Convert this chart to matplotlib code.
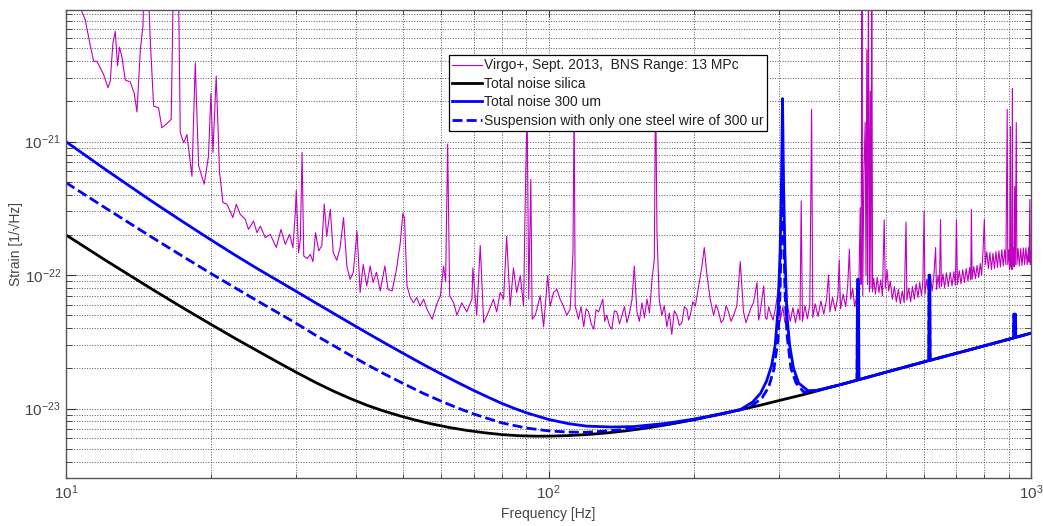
import matplotlib
matplotlib.use('Agg')
import matplotlib.pyplot as plt
from matplotlib.ticker import NullFormatter, FixedLocator

plt.rcParams['font.family'] = ['Liberation Sans', 'DejaVu Sans']
plt.rcParams['mathtext.fontset'] = 'custom'
plt.rcParams['mathtext.rm'] = 'Liberation Sans'
plt.rcParams['axes.unicode_minus'] = False

# ---------------- data ----------------
# Virgo+ measured sensitivity, (frequency [Hz], strain [1/sqrt(Hz)])
virgo_low = [
    (10.0, 3e-20), (10.5, 1.2e-20), (10.96, 8.2e-21), (11.2, 5.5e-21), (11.41, 4.0e-21),
    (11.59, 4.0e-21), (11.96, 3.2e-21), (12.22, 2.54e-21), (12.35, 2.84e-21), (12.51, 5.5e-21),
    (12.65, 6.7e-21), (12.79, 3.7e-21), (12.91, 5.1e-21), (13.06, 4.3e-21), (13.27, 2.9e-21),
    (13.59, 2.8e-21), (13.85, 2.3e-21), (14.03, 1.67e-21), (14.26, 4.9e-21), (14.44, 7.4e-21),
    (14.53, 2e-20), (14.76, 2e-20), (14.95, 5.8e-21), (15.19, 1.85e-21), (15.55, 1.8e-21),
    (15.80, 1.27e-21), (16.19, 1.37e-21), (16.52, 1.47e-21), (16.71, 2e-20), (17.09, 2e-20),
    (17.25, 1.17e-21), (17.53, 9.8e-22), (17.81, 1.13e-21), (18.24, 5.5e-22), (18.53, 3.9e-21),
    (18.83, 6.6e-22), (19.34, 4.8e-22), (19.74, 7.8e-22), (19.97, 2.3e-21), (20.16, 8.3e-22),
    (20.48, 3.1e-21), (20.81, 5.9e-22), (21.15, 3.5e-22), (21.56, 3.4e-22), (22.18, 2.7e-22),
    (22.54, 3.4e-22), (22.97, 2.85e-22), (23.52, 2.62e-22), (23.89, 2.2e-22), (24.47, 2.54e-22),
    (24.88, 2.08e-22), (25.27, 2.33e-22), (25.88, 1.91e-22), (26.50, 2.02e-22), (27.28, 1.61e-22),
    (27.90, 2.2e-22), (28.47, 1.7e-22), (29.06, 2.02e-22), (29.54, 1.61e-22), (29.87, 2.95e-22),
    (30.01, 4.3e-22), (30.34, 1.47e-22),
]
virgo_mid = [
    (30.6, 1.85e-22), (30.85, 8.3e-22), (31.1, 1.39e-22), (31.6, 1.33e-22), (32.1, 1.43e-22),
    (32.5, 1.26e-22), (32.9, 2.08e-22), (33.4, 1.52e-22), (33.9, 1.66e-22), (34.3, 3.41e-22),
    (34.7, 1.95e-22), (35.3, 3.11e-22), (35.8, 1.48e-22), (36.4, 1.29e-22), (37.0, 1.61e-22),
    (37.6, 2.70e-22), (38.2, 1.17e-22), (38.8, 9.3e-23), (39.4, 1.05e-22), (40.1, 2.14e-22),
    (40.7, 7.4e-23), (41.3, 1.20e-22), (42.0, 8.3e-23), (42.7, 1.17e-22), (43.3, 8.8e-23),
    (44.0, 1.05e-22), (44.8, 7.6e-23), (45.8, 1.17e-22), (46.5, 7.8e-23), (47.4, 7.6e-23),
    (48.4, 1.10e-22), (49.3, 1.75e-22), (49.9, 2.9e-22), (50.3, 2.7e-22), (50.9, 8.3e-23),
    (51.7, 6.8e-23), (52.5, 6.2e-23), (53.3, 6.8e-23), (54.2, 5.85e-23), (55.1, 6.6e-23),
    (56.0, 5.55e-23), (57.4, 4.67e-23), (58.8, 6.2e-23), (59.7, 7.0e-23), (60.6, 1.17e-22),
    (61.2, 8.9e-23), (61.8, 9.6e-22), (62.4, 7.0e-23), (63.6, 6.2e-23), (64.6, 5.0e-23),
    (66.1, 6.2e-23), (67.7, 5.3e-23), (69.4, 6.6e-23), (69.7, 1.13e-22), (71.0, 5.0e-23),
    (72.2, 1.67e-22), (73.4, 4.4e-23), (75.1, 5.3e-23), (76.9, 6.6e-23), (78.1, 5.3e-23),
    (79.4, 7.4e-23), (80.7, 6.6e-23), (81.9, 1.95e-22), (83.3, 5.85e-23), (84.6, 1.13e-22),
    (85.9, 7.4e-23), (87.4, 9.9e-23), (88.8, 5.85e-23), (89.5, 3.7e-22), (90.3, 1.8e-21),
    (91.0, 6.6e-23), (91.9, 5.2e-22), (92.5, 4.67e-23), (93.9, 5.0e-23), (96.1, 7.0e-23),
    (97.7, 4.1e-23), (99.6, 9.9e-23), (100.8, 5.85e-23), (102.4, 7.4e-23), (104.1, 7.8e-23),
    (105.7, 6.6e-23), (107.4, 5.85e-23), (109.1, 5.0e-23), (110.9, 5.55e-23), (112.4, 1.48e-22),
    (113.0, 2.0e-21), (113.6, 5.85e-23), (115.4, 4.67e-23), (116.8, 5.8e-23), (118.3, 4.1e-23),
    (119.7, 5.6e-23), (121.1, 5.3e-23), (122.6, 4.3e-23), (124.1, 3.93e-23), (125.5, 5.5e-23),
    (127.0, 5.3e-23), (129.6, 6.6e-23), (130.8, 4.5e-23), (132.1, 5.0e-23), (133.7, 4.2e-23),
    (135.3, 3.93e-23), (136.9, 5.4e-23), (138.6, 5.3e-23), (140.3, 4.3e-23), (142.0, 5.0e-23),
    (143.7, 5.8e-23), (145.4, 4.4e-23), (147.2, 5.2e-23), (149.0, 6.6e-23), (150.6, 1.17e-22),
    (152.5, 5.3e-23), (154.3, 4.5e-23), (156.2, 6.2e-23), (158.1, 4.8e-23), (160.0, 6.6e-23),
    (161.9, 5.2e-23), (163.9, 9.3e-23), (165.7, 1.31e-22), (166.7, 3.0e-21), (167.8, 2.08e-22),
    (169.6, 6.6e-23), (171.8, 5.0e-23), (173.8, 5.9e-23), (175.9, 4.1e-23), (178.0, 5.2e-23),
    (180.1, 3.6e-23), (182.3, 5.4e-23), (184.5, 5.0e-23), (186.7, 4.2e-23), (189.0, 4.4e-23),
    (191.3, 5.8e-23), (193.6, 5.55e-23), (195.1, 4.6e-23), (196.7, 5.0e-23), (199.1, 6.3e-23),
    (201.5, 5.85e-23), (204.7, 8.3e-23), (208.0, 1.17e-22), (210.3, 1.61e-22), (213.1, 9.9e-23),
    (216.3, 6.6e-23), (219.9, 5.0e-23), (222.5, 6.0e-23), (225.2, 5.3e-23), (227.9, 4.4e-23),
    (230.7, 4.67e-23), (233.4, 5.9e-23), (236.1, 5.3e-23), (239.0, 4.5e-23), (241.9, 5.0e-23),
    (245.6, 5.85e-23), (249.7, 1.26e-22), (253.6, 5.3e-23), (256.6, 4.4e-23), (259.7, 5.0e-23),
    (262.8, 5.7e-23), (265.9, 6.2e-23), (270.5, 8.8e-23), (272.6, 4.6e-23), (274.7, 5.3e-23),
    (279.3, 8.3e-23), (281.5, 4.8e-23), (283.6, 4.67e-23), (286.0, 5.8e-23),
]
virgo_high = [
    (288, 5.3e-23), (292, 4.6e-23), (296, 5.9e-23), (299.8, 8.3e-23), (302, 4.5e-23),
    (306, 5.8e-23), (309, 4.4e-23), (313, 5.9e-23), (317, 4.5e-23), (321, 5.7e-23),
    (325, 4.4e-23), (329, 5.6e-23), (332, 4.6e-23), (334, 3.6e-22), (336, 4.5e-23),
    (340, 5.9e-23), (344, 4.7e-23), (348, 6.0e-23), (351, 1.75e-21), (353, 4.8e-23),
    (357, 6.1e-23), (362, 4.9e-23), (367, 6.4e-23), (372, 5.1e-23), (377, 6.6e-23),
    (380.6, 1.0e-22), (383, 5.3e-23), (388, 6.8e-23), (393, 5.4e-23), (398, 7.0e-23),
    (400.4, 1.29e-22), (403, 5.6e-23), (408, 7.2e-23), (413, 5.8e-23), (417, 8.3e-23),
    (420.3, 1.56e-22), (423, 6.6e-23), (427, 8.0e-23), (431, 5.8e-23), (435, 6.9e-23),
    (437.6, 5.2e-23), (440, 9.0e-23), (442.7, 3.2e-22), (444.5, 8.5e-23), (446.2, 2e-20),
    (448, 7.0e-23), (450.5, 6.0e-22), (453.2, 1.4e-21), (455, 1.0e-22), (456.8, 4.9e-21),
    (458.5, 8.5e-23), (460.3, 2e-20), (462.5, 7.5e-23), (464.4, 2.4e-21), (466, 8.0e-23),
    (467.7, 2e-20), (469.5, 7.5e-23), (472, 9.5e-23), (476, 7.2e-23), (480, 9.6e-23),
    (484, 7.4e-23), (488, 9.2e-23), (492, 7.0e-23), (496.3, 2.6e-22), (499, 8.0e-23),
    (503, 1.1e-22), (507, 7.6e-23), (511, 9.0e-23), (516, 6.6e-23), (521, 8.2e-23),
    (526, 6.3e-23), (531, 7.8e-23), (536, 6.1e-23), (541, 7.6e-23), (546, 6.2e-23),
    (550.9, 2.5e-22), (553, 6.5e-23), (558, 8.0e-23), (563, 6.3e-23), (568, 8.2e-23),
    (573, 6.6e-23), (578, 8.6e-23), (583, 6.8e-23), (588, 8.8e-23), (593, 7.0e-23),
    (597, 9.0e-23), (600.3, 3.0e-22), (603, 7.2e-23), (608, 9.3e-23), (613, 7.4e-23),
    (619, 9.5e-23), (624, 7.6e-23), (629, 9.8e-23), (634.3, 1.61e-22), (637, 7.8e-23),
    (642, 1.0e-22), (646, 8.0e-23), (649.4, 2.6e-22), (652, 8.2e-23), (657, 1.02e-22),
    (662, 8.0e-23), (668, 1.04e-22), (674, 8.2e-23), (680, 1.05e-22), (686, 8.3e-23),
    (692, 1.06e-22), (697, 8.4e-23), (700.7, 2.6e-22), (704, 8.5e-23), (710, 1.08e-22),
    (716, 8.6e-23), (722, 1.1e-22), (728, 8.8e-23), (734, 1.12e-22), (740, 9.0e-23),
    (746, 1.14e-22), (750, 9.2e-23), (752.5, 3.1e-22), (755, 9.3e-23), (761, 1.16e-22),
    (767, 9.4e-23), (773, 1.18e-22), (779, 9.6e-23), (785, 1.22e-22), (790, 1.0e-22),
    (795, 1.45e-22), (800.4, 2.62e-22), (804, 1.2e-22), (810, 1.5e-22), (816, 1.12e-22),
    (822, 1.48e-22), (828, 1.1e-22), (834, 1.46e-22), (840, 1.12e-22), (846, 1.5e-22),
    (852, 1.14e-22), (858, 1.52e-22), (864, 1.15e-22), (870, 1.55e-22), (876, 1.17e-22),
    (882, 1.55e-22), (887, 1.2e-22), (892.7, 1.75e-21), (895, 1.2e-22), (900, 1.55e-22),
    (903, 1.1e-22), (906.8, 1.3e-21), (908.5, 1.15e-22), (911, 1.55e-22), (913, 1.1e-22),
    (915.2, 2.5e-21), (917, 1.2e-22), (920, 1.6e-22), (922.5, 1.15e-22), (925, 4.6e-22),
    (928, 1.2e-22), (932.2, 1.39e-21), (935, 1.2e-22), (940, 1.58e-22), (946, 1.17e-22),
    (952, 1.58e-22), (958, 1.18e-22), (964, 1.6e-22), (970, 1.2e-22), (976, 1.6e-22),
    (982, 1.2e-22), (988, 1.6e-22), (991, 1.25e-22), (994.6, 3.7e-22), (997, 1.2e-22),
    (1000, 1.5e-22),
]

silica_freq = [10, 12, 15, 17.5, 20, 22.5, 25, 27.5, 30, 33, 36, 38.8, 42, 45.5, 49.3, 53, 57,
               62.7, 68, 74, 80, 87, 94, 100, 110, 120, 132, 145, 160, 180, 200, 225, 250, 275,
               300, 337, 400, 438, 500, 618, 750, 1000]
silica_strain = [2.0e-22, 1.31e-22, 7.93e-23, 5.66e-23, 4.26e-23, 3.33e-23, 2.69e-23, 2.22e-23,
                 1.87e-23, 1.56e-23, 1.34e-23, 1.19e-23, 1.06e-23, 9.59e-24, 8.79e-24, 8.19e-24,
                 7.69e-24, 7.18e-24, 6.84e-24, 6.57e-24, 6.38e-24, 6.25e-24, 6.21e-24, 6.21e-24,
                 6.27e-24, 6.38e-24, 6.56e-24, 6.81e-24, 7.15e-24, 7.67e-24, 8.24e-24, 9.0e-24,
                 9.79e-24, 1.06e-23, 1.146e-23, 1.27e-23, 1.50e-23, 1.64e-23, 1.87e-23,
                 2.30e-23, 2.77e-23, 3.67e-23]

wire300_freq = [10, 12, 15, 17.5, 20, 22.5, 25, 27.5, 30, 33, 36, 38.8, 42, 45.5, 50, 55, 60,
                65, 70, 75, 80, 85, 90, 100, 110, 120, 135, 150, 175, 200, 225, 250, 265, 275,
                283, 290, 295, 299, 302, 304, 305.5, 307, 309, 312, 316, 322, 330, 345, 360,
                400, 436, 437, 439, 440, 500, 614, 615, 617, 618, 750, 920, 921, 929, 930,
                1000]
wire300_strain = [1.0e-21, 6.28e-22, 3.61e-22, 2.5e-22, 1.83e-22, 1.4e-22, 1.11e-22, 9.08e-23,
                  7.55e-23, 6.16e-23, 5.12e-23, 4.37e-23, 3.7e-23, 3.135e-23, 2.59e-23,
                  2.14e-23, 1.81e-23, 1.56e-23, 1.365e-23, 1.215e-23, 1.093e-23, 1.002e-23,
                  9.29e-24, 8.29e-24, 7.7e-24, 7.38e-24, 7.27e-24, 7.32e-24, 7.73e-24, 8.33e-24,
                  9.05e-24, 9.82e-24, 1.12e-23, 1.3e-23, 1.6e-23, 2.1e-23, 3.0e-23, 5.5e-23,
                  1.5e-22, 5e-22, 2.1e-21, 5e-22, 1.5e-22, 5.0e-23, 3.0e-23, 2.0e-23, 1.55e-23,
                  1.36e-23, 1.37e-23, 1.50e-23, 1.63e-23, 9.3e-23, 9.3e-23, 1.645e-23,
                  1.87e-23, 2.29e-23, 1.0e-22, 1.0e-22, 2.30e-23, 2.77e-23, 3.38e-23, 5.1e-23,
                  5.1e-23, 3.42e-23, 3.67e-23]

steel_freq = [10, 12, 15, 17.5, 20, 22.5, 25, 27.5, 30, 33, 35.8, 38.8, 42, 45.5, 50, 55, 60,
              65, 70, 75, 80, 90, 100, 110, 120, 135, 150, 175, 200, 225, 250, 265, 277, 286,
              293, 299, 302, 304, 305.5, 307, 309, 312, 318, 326, 338, 352, 400, 436, 437,
              438.5, 439.5, 500, 614, 615, 616.5, 617.5, 750, 920, 921, 928, 929, 1000]
steel_strain = [4.93e-22, 3.23e-22, 1.94e-22, 1.375e-22, 1.025e-22, 7.96e-23, 6.37e-23,
                5.22e-23, 4.35e-23, 3.52e-23, 2.97e-23, 2.51e-23, 2.14e-23, 1.83e-23, 1.54e-23,
                1.3e-23, 1.133e-23, 1.005e-23, 9.1e-24, 8.4e-24, 7.81e-24, 7.14e-24, 6.8e-24,
                6.66e-24, 6.64e-24, 6.83e-24, 7.04e-24, 7.59e-24, 8.26e-24, 9.02e-24, 9.8e-24,
                1.06e-23, 1.2e-23, 1.45e-23, 1.95e-23, 3.3e-23, 7.5e-23, 2.5e-22, 7e-22,
                2.5e-22, 8e-23, 3.6e-23, 2.0e-23, 1.55e-23, 1.33e-23, 1.34e-23, 1.50e-23,
                1.63e-23, 8.5e-23, 8.5e-23, 1.645e-23, 1.87e-23, 2.29e-23, 9.5e-23, 9.5e-23,
                2.30e-23, 2.77e-23, 3.38e-23, 5.0e-23, 5.0e-23, 3.41e-23, 3.67e-23]

labels = ['Virgo+, Sept. 2013,  BNS Range: 13 MPc',
          'Total noise silica',
          'Total noise 300 um',
          'Suspension with only one steel wire of 300 ur']

x_ticks = [10, 100, 1000]
y_ticks = [1e-23, 1e-22, 1e-21]

virgo_points = virgo_low + virgo_mid + virgo_high
virgo_freq = [p[0] for p in virgo_points]
virgo_strain = [p[1] for p in virgo_points]

# ---------------- figure ----------------
W, H = 1043, 526
fig = plt.figure(figsize=(W / 100, H / 100), dpi=100)
ax = fig.add_axes([66 / W, (H - 478.3) / H, (1031 - 66) / W, (478.3 - 10) / H])

ax.plot(virgo_freq, virgo_strain, color='#c000c0', lw=0.8, label=labels[0])
ax.plot(silica_freq, silica_strain, color='black', lw=2.0, label=labels[1])
ax.plot(wire300_freq, wire300_strain, color='#0000ff', lw=2.0, label=labels[2])
ax.plot(steel_freq, steel_strain, color='#0000ff', lw=2.0, linestyle=(0, (3.6, 1.5)),
        label=labels[3])

ax.set_xscale('log')
ax.set_yscale('log')
ax.set_xlim(10, 1000)
ax.set_ylim(3e-24, 9.7e-21)
ax.xaxis.set_major_locator(FixedLocator(x_ticks))
ax.yaxis.set_major_locator(FixedLocator(y_ticks))
ax.xaxis.set_minor_formatter(NullFormatter())
ax.yaxis.set_minor_formatter(NullFormatter())

ax.grid(True, which='both', linestyle=':', color='#555555', linewidth=0.7)
ax.set_axisbelow(True)
ax.tick_params(which='both', direction='in', top=True, right=True, color='#333333',
               labelcolor='#444444', labelsize=11)
ax.tick_params(axis='x', which='major', length=5)
ax.tick_params(axis='x', which='minor', length=3)
ax.tick_params(axis='y', which='major', length=7)
ax.tick_params(axis='y', which='minor', length=4)
for sp in ax.spines.values():
    sp.set_color('#555555')
    sp.set_linewidth(1.0)

ax.set_xlabel('Frequency [Hz]', fontsize=10, color='#444444', labelpad=4)
ax.set_ylabel('Strain [1/\u221aHz]', fontsize=10, color='#444444')
ax.yaxis.set_label_coords(-0.045, 0.5)

leg = ax.legend(loc='upper left', bbox_to_anchor=(449 / W, 1 - 55 / H),
                bbox_transform=fig.transFigure, fontsize=10, frameon=True, fancybox=False,
                edgecolor='black', framealpha=1, borderpad=0.25, labelspacing=0.32,
                handlelength=2.1, handletextpad=0.15, borderaxespad=0)
leg.get_frame().set_linewidth(0.9)
for t in leg.get_texts():
    t.set_color('#222222')

fig.savefig('out.png', dpi=100)
